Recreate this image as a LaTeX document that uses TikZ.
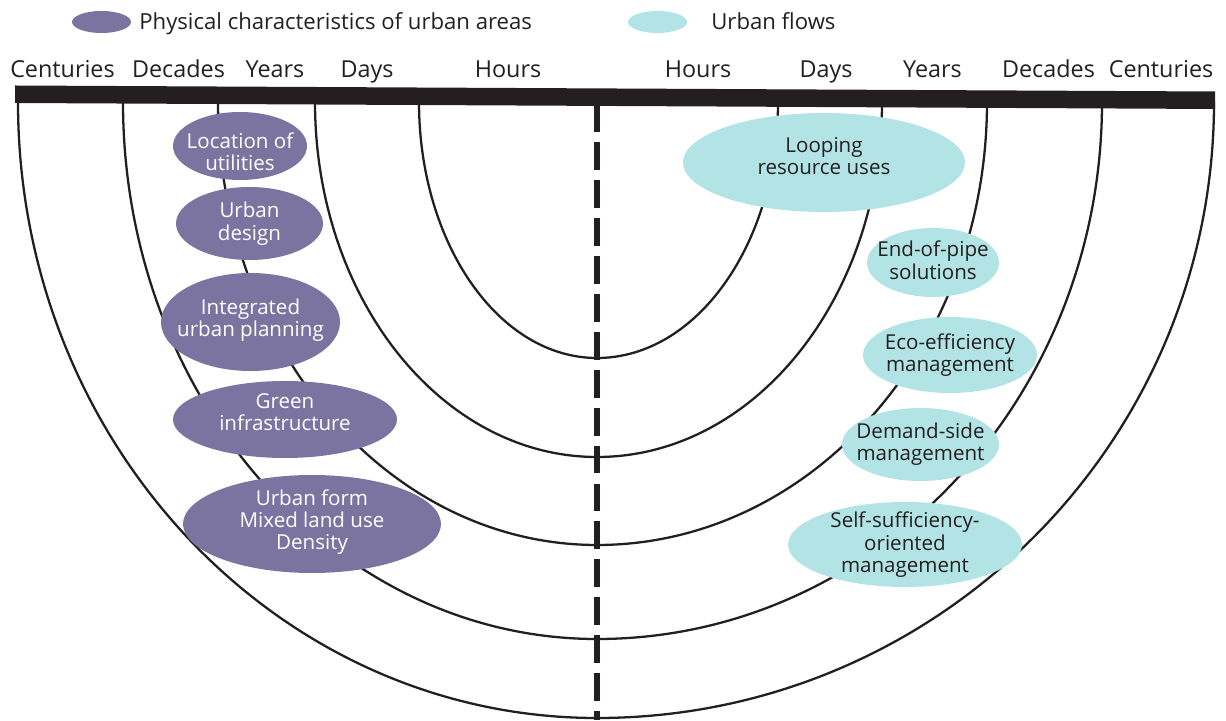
\documentclass[tikz,border=0pt]{standalone}
\usepackage{fontspec}
\setmainfont{Open Sans}
\usepackage{tikz}
\usetikzlibrary{shapes.geometric}
\definecolor{physical}{RGB}{123,116,160}
\definecolor{flow}{RGB}{178,228,230}
\definecolor{ink}{RGB}{35,31,32}
\newcommand{\blobtext}[2][0pt]{\raisebox{\dimexpr-0.3em+#1\relax}[0pt][0pt]{\makebox[0pt]{\begin{tabular}{@{}c@{}}#2\end{tabular}}}}

\begin{document}
\begin{tikzpicture}[x=0.02cm,y=0.02cm,
  timelabel/.style={anchor=base,text=ink,inner sep=0pt,font=\fontsize{13.3}{16}\selectfont},
  keylabel/.style={anchor=base west,text=ink,inner sep=0pt,font=\fontsize{12.6}{15}\selectfont},
  blob/.style 2 args={ellipse,inner sep=0pt,minimum width=#1*0.02cm,minimum height=#2*0.02cm,
    font=\fontsize{11.7}{12.5}\selectfont},
  phys/.style 2 args={blob={#1}{#2},fill=physical,text=white},
  flw/.style 2 args={blob={#1}{#2},fill=flow,text=ink}]
  \useasboundingbox (0,0) rectangle (1226,720);
  % time rings
  \foreach \xl/\rl/\rr/\ry in {419/178/181/256,315/282/285/355,218/379/390/443,123/474/505/537,18/579/617/616}{
    \path[draw,ink,line width=1.3pt] (\xl,618) arc[start angle=180,end angle=270,x radius=\rl,y radius=\ry]
      arc[start angle=270,end angle=360,x radius=\rr,y radius=\ry];
  }
  \path[fill=ink] (15,634.5) -- (1215,628.5) -- (1215,611) -- (15,617) -- cycle;
  \path[draw,ink,line width=3.4pt,dash pattern=on 15.9pt off 5.7pt] (597,616) -- (597,0);
  \foreach \x/\t [count=\i] in {62.5/Centuries,178.5/Decades,275/Years,367/Days,508/Hours,
    698/Hours,826/Days,932.5/Years,1048.5/Decades,1161/Centuries}{
    \node[timelabel] (time\i) at (\x,642) {\t};
  }
  % legend
  \node[phys={59}{22}] (keyphys) at (101.5,698) {};
  \node[keylabel] (keyphystext) at (139,690.7) {Physical characteristics of urban areas};
  \node[flw={59}{22}] (keyflow) at (657.5,698) {};
  \node[keylabel] (keyflowtext) at (711,690.7) {Urban flows};
  % physical characteristics
  \node[phys={134}{68}] (utilities) at (240,574) {\blobtext[-4.8pt]{Location of\\utilities}};
  \node[phys={147}{73}] (design) at (249.5,496.5) {\blobtext{Urban\\design}};
  \node[phys={179}{98}] (planning) at (250.5,398) {\blobtext[1pt]{Integrated\\urban planning}};
  \node[phys={224}{77}] (green) at (285,300.5) {\blobtext[3pt]{Green\\infrastructure}};
  \node[phys={258}{98}] (form) at (312,196) {\blobtext[1pt]{Urban form\\Mixed land use\\Density}};
  % urban flows
  \node[flw={282}{99}] (looping) at (824,557.5) {\blobtext[2.5pt]{Looping\\resource uses}};
  \node[flw={132}{69}] (endpipe) at (933,457.5) {\blobtext{End-of-pipe\\solutions}};
  \node[flw={174}{76}] (eco) at (950,365) {\blobtext{Eco-efficiency\\management}};
  \node[flw={157}{73}] (demand) at (920.5,275.5) {\blobtext{Demand-side\\management}};
  \node[flw={234}{85}] (selfsuff) at (905,175.5) {\blobtext{Self-sufficiency-\\oriented\\management}};
\end{tikzpicture}
\end{document}
